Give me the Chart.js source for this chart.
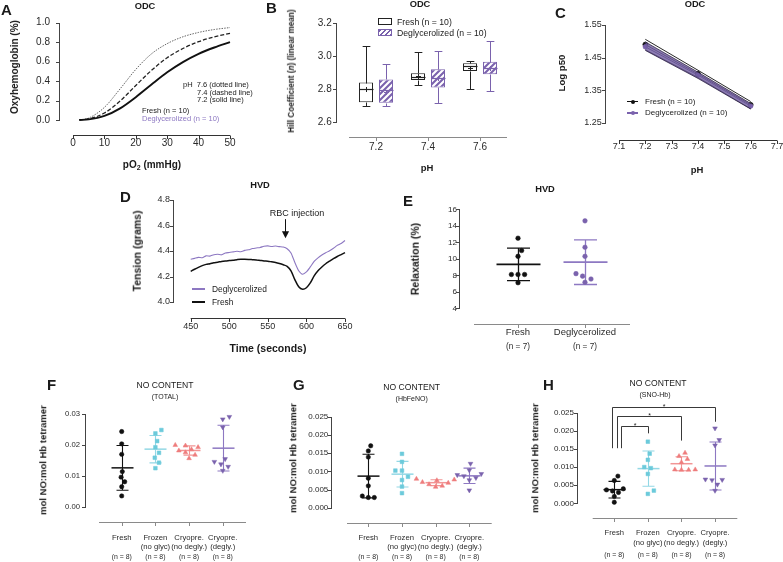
<!DOCTYPE html>
<html><head><meta charset="utf-8">
<script src="https://cdn.jsdelivr.net/npm/chart.js@4.4.1/dist/chart.umd.min.js"></script>
<style>
html,body{margin:0;padding:0;background:#fff;}
#wrap{position:relative;width:783px;height:562px;overflow:hidden;font-family:"Liberation Sans",Arial,Helvetica,sans-serif;}
canvas{position:absolute;left:0;top:0;}
.t{position:absolute;white-space:pre;line-height:1;color:#1a1a1a;}
.bx{position:absolute;box-sizing:border-box;}
</style></head><body><div id="wrap"></div>
<script>
// ================= DATA =================
// A: oxyhemoglobin dissociation curves
const A_pO2  = [2, 5, 10, 15, 20, 25, 30, 35, 40, 45, 50];
const A_pH76 = [0.002, 0.020, 0.130, 0.320, 0.520, 0.680, 0.785, 0.855, 0.900, 0.930, 0.950];
const A_pH74 = [0.001, 0.011, 0.072, 0.195, 0.355, 0.510, 0.640, 0.735, 0.805, 0.855, 0.890];
const A_pH72 = [0.0005, 0.006, 0.042, 0.120, 0.235, 0.365, 0.490, 0.595, 0.680, 0.745, 0.800];
const A_xTicks = [0, 10, 20, 30, 40, 50];
const A_yTicks = [0, 0.2, 0.4, 0.6, 0.8, 1.0];

// B: Hill coefficient box plots
const B_pH = ['7.2', '7.4', '7.6'];
const B_freshMin  = [2.700, 2.823, 2.800];
const B_freshQ1   = [2.720, 2.855, 2.910];
const B_freshMed  = [2.800, 2.871, 2.942];
const B_freshQ3   = [2.840, 2.896, 2.957];
const B_freshMax  = [3.064, 3.024, 2.973];
const B_freshMean = [2.800, 2.881, 2.926];
const B_deglyMin  = [2.700, 2.717, 2.790];
const B_deglyQ1   = [2.717, 2.810, 2.890];
const B_deglyMed  = [2.795, 2.870, 2.926];
const B_deglyQ3   = [2.859, 2.920, 2.967];
const B_deglyMax  = [2.953, 3.034, 3.095];
const B_deglyMean = [2.780, 2.865, 2.930];
const B_yTicks = [2.6, 2.8, 3.0, 3.2];

// C: log p50 vs pH
const C_pH = [7.2, 7.4, 7.6];
const C_freshLogP50 = [1.490, 1.400, 1.305];
const C_freshUpper  = [1.506, 1.411, 1.315];
const C_freshLower  = [1.474, 1.389, 1.293];
const C_deglyLogP50 = [1.483, 1.396, 1.301];
const C_deglyUpper  = [1.498, 1.405, 1.309];
const C_deglyLower  = [1.472, 1.386, 1.292];
const C_xTicks = [7.1, 7.2, 7.3, 7.4, 7.5, 7.6, 7.7];
const C_yTicks = [1.25, 1.35, 1.45, 1.55];

// D: tension traces
const D_time  = [450,455,460,465,470,475,480,485,490,495,500,505,510,515,520,525,530,535,540,545,550,555,560,565,570,575,580,585,590,595,600,605,610,615,620,625,630,635,640,645,650];
const D_degly = [4.335,4.342,4.350,4.347,4.362,4.360,4.371,4.374,4.370,4.384,4.388,4.393,4.398,4.394,4.405,4.410,4.419,4.424,4.428,4.437,4.440,4.435,4.439,4.434,4.431,4.418,4.385,4.310,4.245,4.218,4.236,4.275,4.318,4.346,4.368,4.386,4.402,4.421,4.444,4.459,4.482];
const D_fresh = [4.240,4.257,4.272,4.285,4.295,4.300,4.308,4.312,4.318,4.322,4.325,4.328,4.332,4.335,4.335,4.334,4.332,4.330,4.326,4.322,4.320,4.315,4.310,4.302,4.292,4.280,4.245,4.175,4.120,4.100,4.112,4.150,4.205,4.245,4.275,4.300,4.320,4.340,4.357,4.372,4.387];
const D_xTicks = [450, 500, 550, 600, 650];
const D_yTicks = [4.0, 4.2, 4.4, 4.6, 4.8];
const D_injection = {t: 572, tip: 4.50, top: 4.65};

// E: relaxation
const E_groups = ['Fresh', 'Deglycerolized'];
const E_n = ['(n = 7)', '(n = 7)'];
const E_fresh = [12.5, 11.0, 10.3, 8.1, 8.1, 8.1, 7.1];
const E_degly = [14.6, 11.4, 10.3, 8.2, 7.9, 7.55, 7.15];
const E_yTicks = [4, 6, 8, 10, 12, 14, 16];

// F, G, H: NO content
const NO_groups = [['Fresh'], ['Frozen', '(no glyc)'], ['Cryopre.', '(no degly.)'], ['Cryopre.', '(degly.)']];
const NO_n = ['(n = 8)', '(n = 8)', '(n = 8)', '(n = 8)'];
const F_fresh   = [0.0244, 0.0204, 0.0170, 0.0114, 0.0096, 0.0081, 0.0065, 0.0035];
const F_frozen  = [0.0249, 0.0238, 0.0213, 0.0193, 0.0175, 0.0159, 0.0143, 0.0125];
const F_cryoNo  = [0.0200, 0.0198, 0.0193, 0.0186, 0.0182, 0.0176, 0.0168, 0.0157];
const F_cryoDeg = [0.0292, 0.0284, 0.0258, 0.0155, 0.0146, 0.0138, 0.0130, 0.0117];
const G_fresh   = [0.0170, 0.0156, 0.0139, 0.0081, 0.0060, 0.0032, 0.0028, 0.0028];
const G_frozen  = [0.0148, 0.0126, 0.0102, 0.0102, 0.0085, 0.0076, 0.0058, 0.0040];
const G_cryoNo  = [0.0079, 0.0077, 0.0075, 0.0070, 0.0068, 0.0064, 0.0060, 0.0057];
const G_cryoDeg = [0.0121, 0.0103, 0.0093, 0.0090, 0.0087, 0.0082, 0.0076, 0.0048];
const H_fresh   = [0.0075, 0.0063, 0.0040, 0.0037, 0.0034, 0.0030, 0.0019, 0.0003];
const H_frozen  = [0.0170, 0.0137, 0.0120, 0.0100, 0.0097, 0.0081, 0.0035, 0.0026];
const H_cryoNo  = [0.0139, 0.0130, 0.0122, 0.0113, 0.0093, 0.0092, 0.0092, 0.0093];
const H_cryoDeg = [0.0207, 0.0175, 0.0160, 0.0066, 0.0065, 0.0064, 0.0052, 0.0035];
const F_yTicks = [0, 0.01, 0.02, 0.03];
const G_yTicks = [0, 0.005, 0.010, 0.015, 0.020, 0.025];
const H_yTicks = [0, 0.005, 0.010, 0.015, 0.020, 0.025];
const H_sig = [
  {from: 1, to: 2, top: 0.02135, leftEnd: 0.0152, rightEnd: 0.0193, label: '*'},
  {from: 1, to: 3, top: 0.0241,  leftEnd: 0.0152, rightEnd: 0.0173, label: '*'},
  {from: 1, to: 4, top: 0.0267,  leftEnd: 0.0152, rightEnd: 0.0225, label: '*'}
];

// ================= SETUP =================
const FF = '"Liberation Sans", Arial, Helvetica, sans-serif';
const TC = '#2a2a2a';
const YW = 40;
const PURPLE = '#7a62ad', PURPLE_L = '#8d78c2', CYAN = '#6ccadb', CYAN_L = '#93d8e5', SALMON = '#ee7d7d', SALMON_L = '#f29595';
Chart.defaults.font.family = FF;
const wrap = document.getElementById('wrap');

function newCanvas() {
  const c = document.createElement('canvas');
  c.width = 783; c.height = 562; c.style.width = '783px'; c.style.height = '562px';
  wrap.appendChild(c); return c;
}
function zeroPad(s) { s.paddingTop = s.paddingBottom = s.paddingLeft = s.paddingRight = 0; }
function yAx(ticks, fmt, size, pad) {
  return {type: 'linear', position: 'left', bounds: 'data', min: ticks[0], max: ticks[ticks.length - 1],
    grid: {display: false, drawTicks: false}, border: {display: false},
    afterBuildTicks: s => { s.ticks = ticks.map(v => ({value: v})); },
    afterFit: s => { s.width = YW; zeroPad(s); },
    ticks: {padding: pad, color: TC, autoSkip: false, font: {family: FF, size: size}, callback: v => fmt(v)}};
}
function xAx(min, max, ticks, fmt, size, pad, lh, h) {
  return {type: 'linear', position: 'bottom', bounds: 'data', min: min, max: max,
    grid: {display: false, drawTicks: false}, border: {display: false},
    afterBuildTicks: s => { s.ticks = ticks.map(v => ({value: v})); },
    afterFit: s => { s.height = h; zeroPad(s); },
    ticks: {padding: pad, color: TC, autoSkip: false, maxRotation: 0, minRotation: 0,
      font: {family: FF, size: size, lineHeight: lh}, callback: (v, i) => fmt(v, i)}};
}
function opts(g, scales, plug) {
  return {responsive: false, animation: false, devicePixelRatio: 1, events: [],
    layout: {autoPadding: false, padding: {left: g.L - YW, right: 783 - g.R, top: g.T, bottom: Math.max(0, 562 - g.B - g.Hx - (g.Hn || 0))}},
    scales: scales,
    plugins: Object.assign({legend: {display: false}, tooltip: {enabled: false}}, plug)};
}
const pts = (xs, ys) => xs.map((x, i) => ({x: x, y: ys[i]}));

// axis drawing (offset, Prism-style axes)
const gpAxes = {
  id: 'gpAxes',
  afterDraw(chart, args, o) {
    const ctx = chart.ctx, ca = chart.chartArea, xs = chart.scales.x, ys = chart.scales.y;
    const tl = o.tl || 3;
    ctx.save(); ctx.lineWidth = 1;
    ctx.strokeStyle = o.yc || '#333'; ctx.beginPath();
    const yx = Math.round(o.yx) + 0.5;
    ctx.moveTo(yx, Math.round(ys.getPixelForValue(ys.max))); ctx.lineTo(yx, Math.round(ys.getPixelForValue(ys.min)) + 1);
    ys.ticks.forEach((t, i) => { const p = Math.round(ys.getPixelForTick(i)) + 0.5; ctx.moveTo(yx - tl - 0.5, p); ctx.lineTo(yx, p); });
    ctx.stroke();
    ctx.strokeStyle = o.xc || '#333'; ctx.beginPath();
    const xy = Math.round(o.xy) + 0.5, ext = o.xExt || 0;
    ctx.moveTo(ca.left - ext, xy); ctx.lineTo(ca.right + ext, xy);
    xs.ticks.forEach((t, i) => { const p = Math.round(xs.getPixelForTick(i)) + 0.5; ctx.moveTo(p, xy); ctx.lineTo(p, xy + tl + 0.5); });
    ctx.stroke(); ctx.restore();
  }
};

// box plot whiskers / medians / means
const boxPlugin = {
  id: 'boxw',
  afterDatasetsDraw(chart, args, o) {
    const ys = chart.scales.y, ctx = chart.ctx; const P = v => Math.round(ys.getPixelForValue(v)) + 0.5;
    ctx.save();
    o.sets.forEach((st, di) => {
      chart.getDatasetMeta(di).data.forEach((bar, j) => {
        const x = Math.round(bar.x) + 0.5, w = bar.width, cw = w * 0.55;
        ctx.strokeStyle = st.color; ctx.lineWidth = 1; ctx.beginPath();
        ctx.moveTo(x, P(st.q3[j])); ctx.lineTo(x, P(st.max[j]));
        ctx.moveTo(x - cw / 2, P(st.max[j])); ctx.lineTo(x + cw / 2, P(st.max[j]));
        ctx.moveTo(x, P(st.q1[j])); ctx.lineTo(x, P(st.min[j]));
        ctx.moveTo(x - cw / 2, P(st.min[j])); ctx.lineTo(x + cw / 2, P(st.min[j]));
        ctx.stroke();
        ctx.lineWidth = 1.2; ctx.beginPath();
        ctx.moveTo(x - w / 2, P(st.med[j])); ctx.lineTo(x + w / 2, P(st.med[j])); ctx.stroke();
        const pm = P(st.mean[j]); ctx.lineWidth = 1; ctx.beginPath();
        ctx.moveTo(x - 2.5, pm); ctx.lineTo(x + 2.5, pm); ctx.moveTo(x, pm - 2.5); ctx.lineTo(x, pm + 2.5); ctx.stroke();
      });
    });
    ctx.restore();
  }
};

// mean +/- SD bars
const meanSD = {
  id: 'meanSD',
  beforeDatasetsDraw(chart, args, o) {
    const ctx = chart.ctx, xs = chart.scales.x, ys = chart.scales.y;
    ctx.save();
    o.groups.forEach((gr, k) => {
      const n = gr.vals.length, m = gr.vals.reduce((s, v) => s + v, 0) / n;
      const sd = Math.sqrt(gr.vals.reduce((s, v) => s + (v - m) * (v - m), 0) / (n - 1));
      const cx = Math.round(xs.getPixelForValue(k + 1)) + 0.5;
      const pm = ys.getPixelForValue(m), pt = ys.getPixelForValue(m + sd), pb = ys.getPixelForValue(m - sd);
      ctx.strokeStyle = gr.line;
      ctx.lineWidth = o.mlw; ctx.beginPath(); ctx.moveTo(cx - o.mw / 2, pm); ctx.lineTo(cx + o.mw / 2, pm); ctx.stroke();
      ctx.lineWidth = o.slw; ctx.beginPath();
      ctx.moveTo(cx, pt); ctx.lineTo(cx, pb);
      ctx.moveTo(cx - o.cw / 2, pt); ctx.lineTo(cx + o.cw / 2, pt);
      ctx.moveTo(cx - o.cw / 2, pb); ctx.lineTo(cx + o.cw / 2, pb);
      ctx.stroke();
    });
    ctx.restore();
  }
};

// significance brackets
const sigPlugin = {
  id: 'sig',
  afterDraw(chart, args, o) {
    const xs = chart.scales.x, ys = chart.scales.y, ctx = chart.ctx;
    ctx.save(); ctx.strokeStyle = '#222'; ctx.fillStyle = '#222'; ctx.lineWidth = 0.9;
    ctx.font = '7px ' + FF; ctx.textAlign = 'center'; ctx.textBaseline = 'alphabetic';
    o.items.forEach((s, i) => {
      const x1 = Math.round(xs.getPixelForValue(s.from) + o.shift[i]) + 0.5, x2 = Math.round(xs.getPixelForValue(s.to)) + 0.5;
      const yt = Math.round(ys.getPixelForValue(s.top)) + 0.5, yl = ys.getPixelForValue(s.leftEnd), yr = ys.getPixelForValue(s.rightEnd);
      ctx.beginPath(); ctx.moveTo(x1, yl); ctx.lineTo(x1, yt); ctx.lineTo(x2, yt); ctx.lineTo(x2, yr); ctx.stroke();
      ctx.fillText(s.label, (x1 + x2) / 2, yt + 1.5);
    });
    ctx.restore();
  }
};

// injection arrow
const arrowPlugin = {
  id: 'arrow',
  afterDraw(chart, args, o) {
    const xs = chart.scales.x, ys = chart.scales.y, ctx = chart.ctx;
    const x = Math.round(xs.getPixelForValue(o.t)) + 0.5, yTip = ys.getPixelForValue(o.tip), yTop = ys.getPixelForValue(o.top);
    ctx.save(); ctx.strokeStyle = '#111'; ctx.fillStyle = '#111'; ctx.lineWidth = 1;
    ctx.beginPath(); ctx.moveTo(x, yTop); ctx.lineTo(x, yTip - 6); ctx.stroke();
    ctx.beginPath(); ctx.moveTo(x - 3.6, yTip - 7); ctx.lineTo(x + 3.6, yTip - 7); ctx.lineTo(x, yTip); ctx.closePath(); ctx.fill();
    ctx.restore();
  }
};

function hatch(color) {
  const c = document.createElement('canvas'); c.width = 6; c.height = 6;
  const x = c.getContext('2d'); x.fillStyle = '#fff'; x.fillRect(0, 0, 6, 6);
  x.strokeStyle = color; x.lineWidth = 2.1; x.beginPath();
  x.moveTo(-1, 7); x.lineTo(7, -1); x.moveTo(-1, 1); x.lineTo(1, -1); x.moveTo(5, 7); x.lineTo(7, 5); x.stroke();
  return x.createPattern(c, 'repeat');
}

// horizontal spreading of overlapping points (beeswarm)
function swarm(values, pxPerVal, pxPerCat, r, gap) {
  const idx = values.map((v, i) => i).sort((a, b) => values[a] - values[b]);
  const placed = [], off = values.map(() => 0), minD = 2 * r + gap, step = 0.6;
  idx.forEach(i => {
    const y = values[i] * pxPerVal; let dx = 0;
    for (let t = 0; t < 200; t++) {
      dx = t === 0 ? 0 : (t % 2 === 1 ? 1 : -1) * Math.ceil(t / 2) * step;
      if (placed.every(p => Math.hypot(p.dx - dx, p.y - y) >= minD)) break;
    }
    placed.push({dx: dx, y: y}); off[i] = dx / pxPerCat;
  });
  return off;
}

function dotPanel(c) {
  const g = c.g, last = c.yTicks[c.yTicks.length - 1];
  const pxV = (g.B - g.T) / (last - c.yTicks[0]), pxC = (g.R - g.L) / (c.xmax - c.xmin);
  const cats = c.labels.map((l, i) => i + 1);
  const datasets = c.groups.map((gr, k) => {
    const off = swarm(gr.vals, pxV, pxC, gr.r, c.gap);
    return {type: 'scatter', data: gr.vals.map((v, i) => ({x: k + 1 + off[i], y: v})), pointStyle: gr.style,
      rotation: gr.rot || 0, pointRadius: gr.r, pointBackgroundColor: gr.color, pointBorderColor: gr.color, pointBorderWidth: 0.5, clip: false};
  });
  const scales = {
    x: xAx(c.xmin, c.xmax, cats, (v, i) => c.labels[i], c.labSize, c.labPad, c.labLH, g.Hx),
    y: yAx(c.yTicks, c.yFmt, c.ySize, c.yPad),
    xn: xAx(c.xmin, c.xmax, cats, (v, i) => c.nlabels[i], c.nSize, c.nPad, 1.2, g.Hn)
  };
  const plug = {gpAxes: c.axes, meanSD: Object.assign({groups: c.groups}, c.msd)};
  const plugins = [gpAxes, meanSD];
  if (c.sig) { plug.sig = c.sig; plugins.push(sigPlugin); }
  new Chart(newCanvas(), {type: 'scatter', data: {datasets: datasets}, options: opts(g, scales, plug), plugins: plugins});
}

// ================= CHARTS =================
// A
const gA = {L: 73, R: 230, T: 22.7, B: 120, Hx: 34};
new Chart(newCanvas(), {
  type: 'line',
  data: {datasets: [
    {data: pts(A_pO2, A_pH72), borderColor: '#111', borderWidth: 1.9, pointRadius: 0, cubicInterpolationMode: 'monotone', clip: false},
    {data: pts(A_pO2, A_pH74), borderColor: '#222', borderWidth: 1.3, borderDash: [4, 2], pointRadius: 0, cubicInterpolationMode: 'monotone', clip: false},
    {data: pts(A_pO2, A_pH76), borderColor: '#555', borderWidth: 0.9, borderDash: [1.5, 1.2], pointRadius: 0, cubicInterpolationMode: 'monotone', clip: false}
  ]},
  options: opts(gA, {x: xAx(0, 50, A_xTicks, v => String(v), 10, 17, 1.2, 34), y: yAx(A_yTicks, v => v.toFixed(1), 10, 23)},
    {gpAxes: {yx: 59.3, xy: 135, yc: '#444', xc: '#333'}}),
  plugins: [gpAxes]
});

// B
const gB = {L: 350, R: 506, T: 23.3, B: 122, Hx: 34};
new Chart(newCanvas(), {
  type: 'bar',
  data: {labels: B_pH, datasets: [
    {data: B_pH.map((_, i) => [B_freshQ1[i], B_freshQ3[i]]), backgroundColor: '#fff', borderColor: '#222', borderWidth: 1, borderSkipped: false, categoryPercentage: 0.77, barPercentage: 0.7},
    {data: B_pH.map((_, i) => [B_deglyQ1[i], B_deglyQ3[i]]), backgroundColor: hatch(PURPLE), borderColor: PURPLE, borderWidth: 1, borderSkipped: false, categoryPercentage: 0.77, barPercentage: 0.7}
  ]},
  options: opts(gB, {
    x: {type: 'category', grid: {display: false, drawTicks: false}, border: {display: false},
      afterFit: s => { s.height = 34; zeroPad(s); },
      ticks: {padding: 19, color: TC, font: {family: FF, size: 10}, maxRotation: 0, minRotation: 0}},
    y: yAx(B_yTicks, v => v.toFixed(1), 10, 18.3)
  }, {
    gpAxes: {yx: 335.7, xy: 137.3, yc: '#444', xc: '#8a8a8a', xExt: 1},
    boxw: {sets: [
      {color: '#222', min: B_freshMin, q1: B_freshQ1, med: B_freshMed, q3: B_freshQ3, max: B_freshMax, mean: B_freshMean},
      {color: PURPLE, min: B_deglyMin, q1: B_deglyQ1, med: B_deglyMed, q3: B_deglyQ3, max: B_deglyMax, mean: B_deglyMean}
    ]}
  }),
  plugins: [gpAxes, boxPlugin]
});

// C
const gC = {L: 619, R: 777, T: 25, B: 122.7, Hx: 34};
new Chart(newCanvas(), {
  type: 'line',
  data: {datasets: [
    {data: pts(C_pH, C_deglyUpper), borderColor: '#2e2545', borderWidth: 0.8, pointRadius: 0, fill: false, clip: false},
    {data: pts(C_pH, C_deglyLower), borderColor: '#2e2545', borderWidth: 0.8, pointRadius: 0, fill: '-1', backgroundColor: 'rgba(112,92,160,0.8)', clip: false},
    {data: pts(C_pH, C_freshUpper), borderColor: '#111', borderWidth: 0.9, pointRadius: 0, clip: false},
    {data: pts(C_pH, C_freshLower), borderColor: '#111', borderWidth: 0.9, pointRadius: 0, clip: false},
    {data: pts(C_pH, C_deglyLogP50), borderColor: '#3b2f5e', borderWidth: 0.9, pointRadius: 2.2, pointBackgroundColor: PURPLE, pointBorderColor: PURPLE, clip: false},
    {data: pts(C_pH, C_freshLogP50), borderColor: '#111', borderWidth: 0.9, pointRadius: 2.4, pointBackgroundColor: '#111', pointBorderColor: '#111', clip: false}
  ]},
  options: opts(gC, {x: xAx(7.1, 7.7, C_xTicks, v => v.toFixed(1), 9, 18.3, 1.2, 34), y: yAx(C_yTicks, v => v.toFixed(2), 9, 17.3)},
    {gpAxes: {yx: 605, xy: 140, yc: '#444', xc: '#333'}}),
  plugins: [gpAxes]
});

// D
const gD = {L: 190.7, R: 345, T: 200, B: 302, Hx: 36};
new Chart(newCanvas(), {
  type: 'line',
  data: {datasets: [
    {data: pts(D_time, D_fresh), borderColor: '#111', borderWidth: 1.5, pointRadius: 0, tension: 0.3, clip: false},
    {data: pts(D_time, D_degly), borderColor: PURPLE_L, borderWidth: 1.1, pointRadius: 0, tension: 0.2, clip: false}
  ]},
  options: opts(gD, {x: xAx(450, 650, D_xTicks, v => String(v), 9, 19.6, 1.2, 36), y: yAx(D_yTicks, v => v.toFixed(1), 9, 20.7)},
    {gpAxes: {yx: 173, xy: 318, yc: '#444', xc: '#333'}, arrow: D_injection}),
  plugins: [gpAxes, arrowPlugin]
});

// E
dotPanel({g: {L: 474, R: 630, T: 209.3, B: 308.3, Hx: 32, Hn: 16}, xmin: 0.343, xmax: 2.672,
  yTicks: E_yTicks, yFmt: v => String(v), ySize: 8, yPad: 17,
  groups: [{vals: E_fresh, color: '#111', line: '#111', style: 'circle', r: 2.3},
           {vals: E_degly, color: PURPLE, line: PURPLE_L, style: 'circle', r: 2.3}],
  labels: E_groups, nlabels: E_n, labSize: 9.5, labLH: 1.2, labPad: 18.7, nSize: 8.2, nPad: 1.5, gap: 2,
  axes: {yx: 459, xy: 324, yc: '#444', xc: '#8a8a8a'}, msd: {mw: 44, cw: 23, mlw: 1.8, slw: 1.3}});

const NO_groupsStyle = (a, b, c, d) => [
  {vals: a, color: '#111', line: '#111', style: 'circle', r: 2.2},
  {vals: b, color: CYAN, line: CYAN_L, style: 'rect', r: 2.6},
  {vals: c, color: SALMON, line: SALMON_L, style: 'triangle', r: 2.7},
  {vals: d, color: PURPLE, line: PURPLE_L, style: 'triangle', rot: 180, r: 2.7}];

// F
dotPanel({g: {L: 99, R: 246, T: 414.3, B: 506.7, Hx: 45.5, Hn: 9.8}, xmin: 0.326, xmax: 4.69,
  yTicks: F_yTicks, yFmt: v => v.toFixed(2), ySize: 7.7, yPad: 19,
  groups: NO_groupsStyle(F_fresh, F_frozen, F_cryoNo, F_cryoDeg),
  labels: NO_groups, nlabels: NO_n, labSize: 7.7, labLH: 1.17, labPad: 27.1, nSize: 6.9, nPad: 0.96, gap: 1.2,
  axes: {yx: 85, xy: 521.7, yc: '#444', xc: '#8a8a8a'}, msd: {mw: 22, cw: 12, mlw: 1.5, slw: 1.1}});

// G
dotPanel({g: {L: 347, R: 491.7, T: 416.7, B: 507.7, Hx: 44.7, Hn: 9.6}, xmin: 0.367, xmax: 4.665,
  yTicks: G_yTicks, yFmt: v => v.toFixed(3), ySize: 8, yPad: 18.7,
  groups: NO_groupsStyle(G_fresh, G_frozen, G_cryoNo, G_cryoDeg),
  labels: NO_groups, nlabels: NO_n, labSize: 7.7, labLH: 1.17, labPad: 26.1, nSize: 6.9, nPad: 0.76, gap: 1.2,
  axes: {yx: 330.7, xy: 523.3, yc: '#444', xc: '#8a8a8a'}, msd: {mw: 22, cw: 12, mlw: 1.5, slw: 1.1}});

// H
dotPanel({g: {L: 592.7, R: 737.3, T: 412.7, B: 503.3, Hx: 45.7, Hn: 13}, xmin: 0.357, xmax: 4.664,
  yTicks: H_yTicks, yFmt: v => v.toFixed(3), ySize: 8, yPad: 18.7,
  groups: NO_groupsStyle(H_fresh, H_frozen, H_cryoNo, H_cryoDeg),
  labels: NO_groups, nlabels: NO_n, labSize: 7.6, labLH: 1.316, labPad: 25, nSize: 6.9, nPad: 1.86, gap: 1.2,
  axes: {yx: 577.3, xy: 518.3, yc: '#444', xc: '#8a8a8a'}, msd: {mw: 22, cw: 12, mlw: 1.5, slw: 1.1},
  sig: {items: H_sig, shift: [6.7, 2.4, -2]}});

// ================= TEXT =================
function T(x, y, html, o) {
  o = o || {};
  const d = document.createElement('div'); d.className = 't'; d.innerHTML = html;
  d.style.left = x + 'px'; d.style.top = y + 'px'; d.style.fontSize = (o.s || 9) + 'px';
  if (o.b) d.style.fontWeight = 'bold';
  if (o.c) d.style.color = o.c;
  const tx = o.a === 'l' ? '0' : (o.a === 'r' ? '-100%' : '-50%');
  d.style.transform = 'translate(' + tx + ',-50%)' + (o.r ? ' rotate(' + o.r + 'deg)' : '');
  wrap.appendChild(d);
}
function BX(x, y, w, h, css) {
  const d = document.createElement('div'); d.className = 'bx';
  d.style.cssText = 'left:' + x + 'px;top:' + y + 'px;width:' + w + 'px;height:' + h + 'px;' + css;
  wrap.appendChild(d);
}
const L = {s: 15, b: true, a: 'l'};
// A
T(1, 8.5, 'A', L);
T(145, 7.3, 'ODC', {s: 9.3, b: true});
T(15, 67, 'Oxyhemoglobin (%)', {s: 10, b: true, r: -90});
T(152, 165, 'pO<span style="font-size:0.7em;position:relative;top:0.3em">2</span> (mmHg)', {s: 10, b: true});
T(183, 85, 'pH  7.6 (dotted line)', {s: 7.5, a: 'l'});
T(197, 92.7, '7.4 (dashed line)', {s: 7.5, a: 'l'});
T(197, 100.3, '7.2 (solid line)', {s: 7.5, a: 'l'});
T(142, 110.7, 'Fresh (n = 10)', {s: 7.5, a: 'l'});
T(142, 119, 'Deglycerolized (n = 10)', {s: 7.5, a: 'l', c: PURPLE_L});
// B
T(266, 7, 'B', L);
T(420, 4.8, 'ODC', {s: 9.3, b: true});
T(292, 71, 'Hill Coefficient (<i>n</i>) (linear mean)', {s: 8.2, b: true, r: -90});
T(427, 168, 'pH', {s: 9.5, b: true});
BX(378, 18.3, 13.5, 7, 'border:1px solid #222;background:#fff;');
T(397, 21.7, 'Fresh (n = 10)', {s: 8.7, a: 'l'});
BX(378, 29.3, 13.5, 7, 'border:1px solid ' + PURPLE + ';background:repeating-linear-gradient(135deg,' + PURPLE + ' 0 1.6px,#fff 1.6px 3.6px);');
T(397, 32.7, 'Deglycerolized (n = 10)', {s: 8.7, a: 'l'});
// C
T(555, 11.7, 'C', L);
T(695, 5, 'ODC', {s: 9.3, b: true});
T(562, 73, 'Log p50', {s: 9.6, b: true, r: -90});
T(697, 170, 'pH', {s: 9.5, b: true});
BX(626.7, 101.1, 11.6, 1.2, 'background:#111;');
BX(630.5, 99.7, 4, 4, 'border-radius:50%;background:#111;');
T(645, 101.7, 'Fresh (n = 10)', {s: 8, a: 'l'});
BX(626.7, 112.4, 11.6, 1.2, 'background:' + PURPLE + ';');
BX(630.5, 111, 4, 4, 'border-radius:50%;background:' + PURPLE + ';');
T(645, 113, 'Deglycerolized (n = 10)', {s: 8, a: 'l'});
// D
T(120, 195.7, 'D', L);
T(260, 186, 'HVD', {s: 9.3, b: true});
T(137, 251, 'Tension (grams)', {s: 10.5, b: true, r: -90});
T(268, 348, 'Time (seconds)', {s: 10.5, b: true});
T(297, 213, 'RBC injection', {s: 9});
BX(192, 288.4, 13, 1.3, 'background:' + PURPLE_L + ';');
T(212, 289, 'Deglycerolized', {s: 8.4, a: 'l'});
BX(192, 301, 13, 1.5, 'background:#111;');
T(212, 301.7, 'Fresh', {s: 8.4, a: 'l'});
// E
T(403, 200, 'E', L);
T(545, 190, 'HVD', {s: 9.3, b: true});
T(415, 259, 'Relaxation (%)', {s: 10.5, b: true, r: -90});
// F
T(47, 384, 'F', L);
T(165, 385, 'NO CONTENT', {s: 8.6});
T(165, 395.5, '(TOTAL)', {s: 7});
T(43, 460, 'mol NO:mol Hb tetramer', {s: 9.5, b: true, r: -90});
// G
T(293, 384, 'G', L);
T(411.7, 387, 'NO CONTENT', {s: 8.6});
T(411.7, 397.5, '(HbFeNO)', {s: 7});
T(293, 458, 'mol NO:mol Hb tetramer', {s: 9.5, b: true, r: -90});
// H
T(543, 384, 'H', L);
T(658, 383, 'NO CONTENT', {s: 8.6});
T(655, 393.5, '(SNO-Hb)', {s: 7});
T(535, 458, 'mol NO:mol Hb tetramer', {s: 9.5, b: true, r: -90});
</script>
</body></html>
